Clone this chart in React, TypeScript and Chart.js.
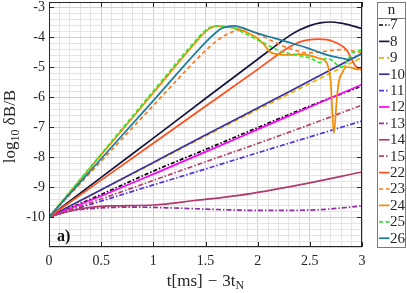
import React, { useEffect, useRef } from 'react';
import { Chart, registerables } from 'chart.js';

Chart.register(...registerables);

// ---------- data ----------
const seriesLabels = ['7', '8', '9', '10', '11', '12', '13', '14', '15', '22', '23', '24', '25', '26'];
const seriesColors = ['#000000', '#15153d', '#e8b400', '#3a30a0', '#5533dd', '#ff00ff', '#8f2ea0', '#b03a6c', '#b8456f', '#ff4f1c', '#ff7a1f', '#f28a00', '#2ee82e', '#1c7d9c'];
const seriesDashes: number[][] = [[4, 2, 1.5, 2], [], [5, 3], [], [5, 2, 1.5, 2], [], [5, 2, 1.5, 2], [], [5, 2, 1.5, 2], [], [4, 3], [], [4, 2.5], []];

const tLin = [0, 0.5, 1, 1.5, 2, 2.5, 3];
const v7 = [-10, -9.25, -8.47, -7.75, -7.02, -6.3, -5.63];
const v9 = [-10, -9.1, -8.2, -7.3, -6.42, -5.55, -4.68];
const v10 = [-10, -9.09, -8.18, -7.27, -6.37, -5.46, -4.55];
const v11 = [-10, -9.47, -8.93, -8.4, -7.86, -7.33, -6.8];
const v12 = [-10, -9.3, -8.57, -7.83, -7.08, -6.33, -5.58];
const v15 = [-10, -9.4, -8.78, -8.16, -7.55, -6.92, -6.27];

const t8 = [0, 0.5, 1, 1.5, 2, 2.2, 2.3, 2.4, 2.5, 2.6, 2.7, 2.8, 2.9, 3];
const v8 = [-10, -8.68, -7.37, -6.05, -4.74, -4.22, -3.97, -3.77, -3.62, -3.53, -3.5, -3.54, -3.62, -3.72];

const t13 = [0, 0.2, 0.4, 0.8, 1.2, 1.6, 2.0, 2.5, 2.8, 3.0];
const v13 = [-10, -9.8, -9.72, -9.67, -9.7, -9.75, -9.78, -9.77, -9.7, -9.63];

const t14 = [0, 0.2, 0.4, 0.6, 1.0, 1.4, 1.84, 2.4, 3.0];
const v14 = [-10, -9.8, -9.68, -9.63, -9.6, -9.45, -9.27, -8.93, -8.5];

const t22 = [0, 0.5, 1, 1.5, 2, 2.3, 2.4, 2.5, 2.58, 2.66, 2.73, 2.8, 2.85, 2.89, 2.94, 3];
const v22 = [-10, -8.77, -7.54, -6.31, -5.08, -4.34, -4.17, -4.09, -4.07, -4.09, -4.16, -4.28, -4.42, -4.66, -4.98, -5.1];

const t23 = [0, 0.5, 1, 1.4, 1.5, 1.6, 1.7, 1.8, 1.88, 2.0, 2.15, 2.3, 2.48, 2.6, 2.7, 2.8, 2.9, 3];
const v23 = [-10, -8.14, -6.28, -4.8, -4.45, -4.15, -3.92, -3.78, -3.75, -3.9, -4.15, -4.38, -4.53, -4.5, -4.45, -4.42, -4.46, -4.52];

const t24 = [0, 0.5, 1, 1.4, 1.5, 1.55, 1.6, 1.7, 1.8, 1.9, 2.0, 2.06, 2.12, 2.2, 2.3, 2.4, 2.5, 2.6, 2.66, 2.7, 2.73, 2.76, 2.78, 2.81, 2.85, 2.9, 2.95, 3];
const v24 = [-10, -7.93, -5.86, -4.2, -3.82, -3.7, -3.64, -3.66, -3.72, -3.85, -4.05, -4.25, -4.5, -4.58, -4.6, -4.57, -4.62, -4.72, -4.85, -5.5, -7.2, -6.0, -5.45, -5.2, -5.0, -5.02, -5.08, -5.05];

const t25 = [0, 0.5, 1, 1.4, 1.5, 1.55, 1.6, 1.7, 1.8, 1.9, 2.0, 2.1, 2.2, 2.3, 2.4, 2.5, 2.6, 2.65, 2.7, 2.8, 2.85, 2.9, 2.95, 3];
const v25 = [-10, -7.9, -5.8, -4.14, -3.78, -3.67, -3.64, -3.65, -3.75, -3.92, -4.1, -4.27, -4.45, -4.55, -4.62, -4.7, -4.85, -4.72, -4.75, -5.0, -4.85, -4.55, -4.48, -4.43];

const t26 = [0, 0.5, 1, 1.5, 1.6, 1.65, 1.7, 1.77, 1.84, 2.0, 2.15, 2.3, 2.48, 2.6, 2.7, 2.8, 2.87, 2.93, 3];
const v26 = [-10, -8.06, -6.12, -4.18, -3.85, -3.72, -3.66, -3.63, -3.68, -3.88, -4.03, -4.18, -4.37, -4.52, -4.63, -4.7, -4.75, -4.68, -4.55];

const seriesT = [tLin, t8, tLin, tLin, tLin, tLin, t13, t14, tLin, t22, t23, t24, t25, t26];
const seriesV = [v7, v8, v9, v10, v11, v12, v13, v14, v15, v22, v23, v24, v25, v26];

const X_MIN = 0;
const X_MAX = 3;
const Y_MIN = -11;
const Y_MAX = -2.833;

const xGrid = Array.from({ length: 31 }, (_, i) => i / 10);
const yGrid = Array.from({ length: 41 }, (_, i) => (-110 + 2 * i) / 10);
const xMajor = [0, 0.5, 1, 1.5, 2, 2.5, 3];
const yMajor = [-10, -9, -8, -7, -6, -5, -4, -3];

const FONT = "'Liberation Serif', 'Times New Roman', serif";

const isMajorX = (v: number) => Math.abs(v * 2 - Math.round(v * 2)) < 1e-6;
const isMajorY = (v: number) => Math.abs(v - Math.round(v)) < 1e-6;
const isLabelY = (v: number) => isMajorY(v) && v >= -10.001;

const decorPlugin = {
  id: 'decor',
  afterDraw(chart: any) {
    const ctx: CanvasRenderingContext2D = chart.ctx;
    const { left, right, top, bottom } = chart.chartArea;
    const xs = chart.scales.x;
    const ys = chart.scales.y;
    ctx.save();

    // inward tick marks
    ctx.strokeStyle = '#262626';
    ctx.lineWidth = 1;
    ctx.beginPath();
    for (const v of xMajor) {
      const px = Math.round(xs.getPixelForValue(v)) + 0.5;
      ctx.moveTo(px, bottom);
      ctx.lineTo(px, bottom - 5);
      ctx.moveTo(px, top);
      ctx.lineTo(px, top + 5);
    }
    for (const v of yMajor) {
      const py = Math.round(ys.getPixelForValue(v)) + 0.5;
      ctx.moveTo(left, py);
      ctx.lineTo(left + 5, py);
      ctx.moveTo(right, py);
      ctx.lineTo(right - 5, py);
    }
    ctx.stroke();

    // frame
    ctx.strokeRect(Math.round(left) + 0.5, Math.round(top) + 0.5, Math.round(right - left) - 1, Math.round(bottom - top) - 1);

    // panel label
    ctx.fillStyle = '#111';
    ctx.font = `bold 16px ${FONT}`;
    ctx.textAlign = 'left';
    ctx.textBaseline = 'alphabetic';
    ctx.fillText('a)', left + 8, bottom - 6);

    // x title: t[ms] − 3t_N
    ctx.fillStyle = '#262626';
    const big = `17px ${FONT}`;
    const small = `12px ${FONT}`;
    ctx.font = big;
    const p1 = 't[ms]';
    const p2 = '\u2212';
    const p3 = '3t';
    const w1 = ctx.measureText(p1).width;
    const w2 = ctx.measureText(p2).width;
    const w3 = ctx.measureText(p3).width;
    ctx.font = small;
    const w4 = ctx.measureText('N').width;
    const gap = 5;
    const total = w1 + gap + w2 + gap + w3 + w4;
    let x0 = (left + right) / 2 - total / 2;
    const base = 286;
    ctx.font = big;
    ctx.fillText(p1, x0, base);
    x0 += w1 + gap;
    ctx.fillText(p2, x0, base);
    x0 += w2 + gap;
    ctx.fillText(p3, x0, base);
    x0 += w3;
    ctx.font = small;
    ctx.fillText('N', x0, base + 3);

    // y title: log10 δB/B
    ctx.save();
    ctx.translate(15, (top + bottom) / 2 + 2);
    ctx.rotate(-Math.PI / 2);
    ctx.font = big;
    const q1 = 'log';
    const q3 = ' \u03b4B/B';
    const wq1 = ctx.measureText(q1).width;
    const wq3 = ctx.measureText(q3).width;
    ctx.font = small;
    const wq2 = ctx.measureText('10').width;
    let y0 = -(wq1 + wq2 + wq3) / 2;
    ctx.font = big;
    ctx.fillText(q1, y0, 0);
    y0 += wq1;
    ctx.font = small;
    ctx.fillText('10', y0, 4);
    y0 += wq2;
    ctx.font = big;
    ctx.fillText(q3, y0, 0);
    ctx.restore();

    // legend
    const lx = 377.5;
    const ly = 2.5;
    const lw = 28;
    const lh = 245;
    ctx.fillStyle = '#ffffff';
    ctx.fillRect(lx, ly, lw, lh);
    ctx.strokeStyle = '#7a7a7a';
    ctx.lineWidth = 1;
    ctx.strokeRect(lx, ly, lw, lh);
    ctx.beginPath();
    ctx.moveTo(lx, 18.5);
    ctx.lineTo(lx + lw, 18.5);
    ctx.stroke();
    ctx.fillStyle = '#262626';
    ctx.font = `15px ${FONT}`;
    ctx.textAlign = 'center';
    ctx.textBaseline = 'alphabetic';
    ctx.fillText('n', lx + lw / 2, 14);
    ctx.textAlign = 'left';
    ctx.textBaseline = 'middle';
    chart.data.datasets.forEach((ds: any, i: number) => {
      const cy = 25 + i * 16.4;
      ctx.save();
      ctx.strokeStyle = ds.borderColor;
      ctx.lineWidth = ds.borderWidth;
      ctx.setLineDash(ds.borderDash || []);
      ctx.beginPath();
      ctx.moveTo(379, cy);
      ctx.lineTo(389.5, cy);
      ctx.stroke();
      ctx.restore();
      ctx.fillStyle = '#262626';
      ctx.fillText(ds.label, 390, cy + 0.5);
    });

    ctx.restore();
  },
};

export default function App() {
  const ref = useRef<HTMLCanvasElement>(null);

  useEffect(() => {
    if (!ref.current) return;
    const datasets = seriesLabels.map((lab, i) => ({
      label: lab,
      data: seriesT[i].map((t, j) => ({ x: t, y: seriesV[i][j] })),
      borderColor: seriesColors[i],
      backgroundColor: seriesColors[i],
      borderDash: seriesDashes[i],
      borderWidth: 1.7,
      pointRadius: 0,
      fill: false,
      order: seriesLabels.length - i,
      cubicInterpolationMode: 'monotone' as const,
    }));

    const chart = new Chart(ref.current, {
      type: 'line',
      data: { datasets },
      options: {
        responsive: false,
        devicePixelRatio: 1,
        animation: false,
        layout: { padding: { left: 0, right: 45, top: 2, bottom: 0 } },
        plugins: { legend: { display: false }, tooltip: { enabled: false } },
        scales: {
          x: {
            type: 'linear',
            min: X_MIN,
            max: X_MAX,
            border: { display: false },
            grid: {
              drawTicks: false,
              color: (c: any) => (isMajorX(c.tick.value) ? '#d0d0d0' : '#e4e4e4'),
            },
            afterBuildTicks: (s: any) => {
              s.ticks = xGrid.map((v) => ({ value: v }));
            },
            afterFit: (s: any) => {
              s.height = 46;
              s.paddingLeft = 0;
              s.paddingRight = 0;
            },
            ticks: {
              autoSkip: false,
              maxRotation: 0,
              padding: 6,
              color: '#262626',
              font: { family: FONT, size: 14 },
              callback: (v: any) => (isMajorX(Number(v)) ? String(Math.round(Number(v) * 10) / 10) : ''),
            },
          },
          y: {
            type: 'linear',
            min: Y_MIN,
            max: Y_MAX,
            border: { display: false },
            grid: {
              drawTicks: false,
              color: (c: any) => (isMajorY(c.tick.value) ? '#d0d0d0' : '#e4e4e4'),
            },
            afterBuildTicks: (s: any) => {
              s.ticks = yGrid.map((v) => ({ value: v }));
            },
            afterFit: (s: any) => {
              s.width = 49;
              s.paddingTop = 0;
              s.paddingBottom = 0;
            },
            ticks: {
              autoSkip: false,
              padding: 4,
              color: '#262626',
              font: { family: FONT, size: 14 },
              callback: (v: any) => (isLabelY(Number(v)) ? String(Math.round(Number(v))) : ''),
            },
          },
        },
      },
      plugins: [decorPlugin],
    });
    return () => chart.destroy();
  }, []);

  return (
    <div style={{ position: 'fixed', left: 0, top: 0, width: 407, height: 293, background: '#ffffff' }}>
      <canvas ref={ref} width={407} height={293} style={{ display: 'block', width: 407, height: 293 }} />
    </div>
  );
}
